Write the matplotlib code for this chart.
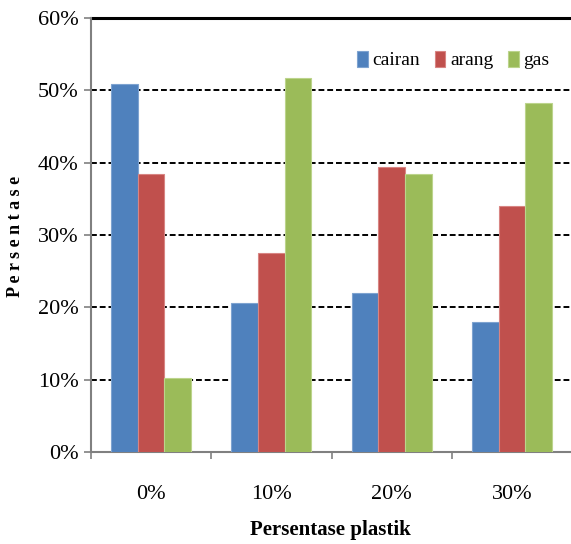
import numpy as np
import matplotlib
matplotlib.use("Agg")
import matplotlib.pyplot as plt

categories = ["0%", "10%", "20%", "30%"]
cairan = [50.9, 20.6, 22.0, 18.0]
arang = [38.5, 27.5, 39.4, 34.0]
gas = [10.3, 51.7, 38.4, 48.3]
y_ticks = [0, 10, 20, 30, 40, 50, 60]

plt.rcParams['font.family'] = ['Liberation Serif', 'DejaVu Serif']

fig = plt.figure(figsize=(5.71, 5.44), dpi=100)
ax = fig.add_axes([0.1594, 0.169, 0.8424, 0.798])

x = np.arange(len(categories))
w = 0.222
series = [("cairan", cairan, "#4F81BD", "#7EA3D0"),
          ("arang", arang, "#C0504D", "#D88583"),
          ("gas", gas, "#9BBB59", "#BCD48C")]
for i, (name, vals, col, edge) in enumerate(series):
    ax.bar(x + (i - 1) * w, vals, width=w, color=col, edgecolor=edge,
           linewidth=0.8, label=name, zorder=3)

ax.set_xlim(-0.5, 3.5)
ax.set_ylim(0, 60)

# gridlines
for t in y_ticks[1:-1]:
    ax.axhline(t, color="black", linestyle=(0, (3, 1.5)), linewidth=1.4, zorder=1)
ax.axhline(60, color="black", linewidth=2.2, zorder=1, clip_on=False)

ax.set_yticks(y_ticks)
ax.set_yticklabels([f"{t}%" for t in y_ticks], fontsize=16)
ax.set_xticks(x)
ax.set_xticklabels(categories, fontsize=16)
ax.set_xticks(np.arange(-0.5, 4.0, 1.0), minor=True)
ax.tick_params(axis="x", which="major", length=0, pad=24)
ax.tick_params(axis="x", which="minor", length=5, color="#808080", width=1.2)
ax.tick_params(axis="y", length=5, color="#808080", width=1.2, pad=4)

for s in ["top", "right"]:
    ax.spines[s].set_visible(False)
for s in ["left", "bottom"]:
    ax.spines[s].set_color("#808080")
    ax.spines[s].set_linewidth(1.5)

fig.text(0.027, 0.565, "P e r s e n t a s e", rotation=90, fontsize=13,
         fontweight="bold", ha="center", va="center")
fig.text(0.578, 0.025, "Persentase plastik", fontsize=15, fontweight="bold",
         ha="center", va="center")

leg = ax.legend(loc="upper right", bbox_to_anchor=(0.99, 0.965), ncol=3,
                frameon=False, fontsize=14, handlelength=0.55, handleheight=0.9,
                handletextpad=0.25, columnspacing=0.75)

fig.savefig("out.png", dpi=100)
